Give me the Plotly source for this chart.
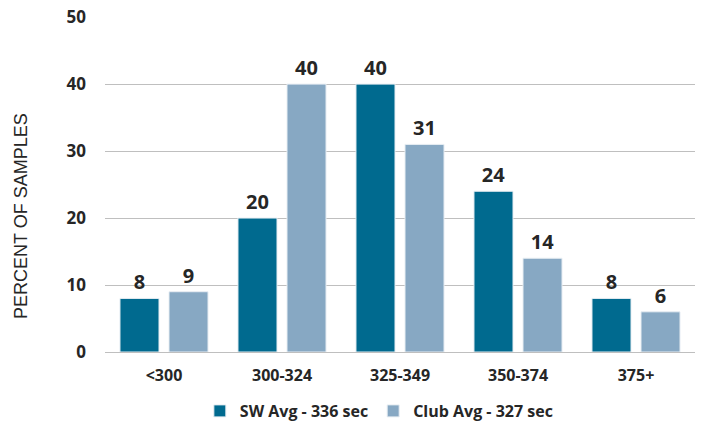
import plotly.graph_objects as go

categories = ["<300", "300-324", "325-349", "350-374", "375+"]
sw_avg = [8, 20, 40, 24, 8]
club_avg = [9, 40, 31, 14, 6]
series_names = ["SW Avg - 336 sec", "Club Avg - 327 sec"]
y_ticks = [0, 10, 20, 30, 40, 50]
y_title = "PERCENT OF SAMPLES"

dark = "#006A8F"
light = "#87A8C3"
font_family = "Open Sans, Calibri, sans-serif"
txt = "#262626"

fig = go.Figure()
for name, vals, col in [(series_names[0], sw_avg, dark), (series_names[1], club_avg, light)]:
    fig.add_trace(go.Bar(
        x=categories, y=vals, name=name,
        marker=dict(color=col, line=dict(color="#e8eef3", width=1)),
        text=[str(v) for v in vals], textposition="outside",
        textfont=dict(family=font_family, size=20, color=txt, weight="bold"),
        cliponaxis=False,
    ))

fig.add_annotation(
    text=y_title, textangle=-90, xref="paper", yref="paper",
    x=-0.1424, y=0.406, xanchor="center", yanchor="middle", showarrow=False,
    font=dict(family="Liberation Sans, Arial, sans-serif", size=18, color=txt),
)

fig.update_layout(
    width=702, height=425,
    margin=dict(l=105, r=7, t=17, b=73, autoexpand=False),
    paper_bgcolor="white", plot_bgcolor="white",
    barmode="group", bargap=0.169, bargroupgap=0.204,
    font=dict(family=font_family, color=txt),
    showlegend=True,
    legend=dict(orientation="h", x=0.465, xanchor="center",
                yref="container", y=0.033, yanchor="middle",
                font=dict(size=16, weight="bold", color=txt),
                traceorder="normal"),
    xaxis=dict(showgrid=False, showline=True, linecolor="#bfbfbf", linewidth=1,
               automargin=False, ticklabelstandoff=9,
               tickfont=dict(size=16, weight="bold", color=txt), ticks=""),
    yaxis=dict(range=[0, 50.02], tickvals=y_ticks, showgrid=True, gridcolor="#bfbfbf",
               gridwidth=1, zeroline=False, ticks="", ticklabelstandoff=18,
               automargin=False,
               tickfont=dict(size=17, weight="bold", color=txt)),
)

fig.write_html(
    "out.html",
    config={"displayModeBar": False},
    post_script="document.body.style.margin='0';document.body.style.overflow='hidden';",
)
